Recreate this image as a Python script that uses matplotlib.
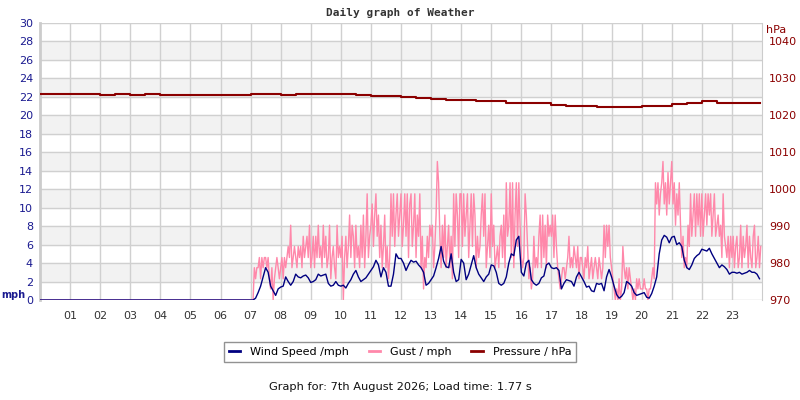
import numpy as np
import matplotlib
matplotlib.use('Agg')
import matplotlib.pyplot as plt
from matplotlib.lines import Line2D

# wind speed (mph), every 5 min from 07:00, zero before that
wind_speed = [
    0, 0, 0.2, 0.8, 1.5, 2.5, 3.5, 3.0, 1.5, 1.0, 0.5, 1.2,
    1.4, 1.5, 2.5, 2.0, 1.6, 2.0, 2.8, 2.5, 2.4, 2.6, 2.7, 2.4,
    1.9, 2.0, 2.2, 2.8, 2.6, 2.7, 2.8, 1.8, 1.5, 1.6, 2.0, 1.6,
    1.5, 1.6, 1.3, 1.8, 2.2, 2.8, 3.2, 2.5, 2.0, 2.2, 2.4, 2.8,
    3.2, 3.6, 4.3, 3.8, 2.5, 3.5, 3.0, 1.5, 1.5, 2.8, 5.0, 4.5,
    4.5, 4.0, 3.2, 3.8, 4.3, 4.1, 4.2, 3.8, 3.5, 3.0, 1.6, 1.8,
    2.2, 2.6, 3.5, 4.5, 5.8, 4.2, 3.6, 3.5, 5.0, 3.0, 2.0, 2.2,
    4.4, 4.0, 2.2, 2.8, 3.8, 4.8, 3.5, 2.8, 2.4, 2.0, 2.5, 2.8,
    3.8, 3.7, 3.0, 1.8, 1.6, 1.8, 2.5, 4.0, 5.0, 4.8, 6.5, 6.9,
    3.0, 2.6, 4.0, 4.3, 2.2, 1.8, 1.6, 1.8, 2.4, 2.6, 3.8, 4.0,
    3.5, 3.4, 3.5, 3.2, 1.2, 1.8, 2.2, 2.1, 2.0, 1.5, 2.5, 3.0,
    2.5, 2.0, 1.4, 1.5, 1.0, 0.9, 1.8, 1.7, 1.8, 1.0, 2.5, 3.3,
    2.5, 1.5, 0.6, 0.2, 0.4, 0.8, 2.0, 1.8, 1.5, 0.8, 0.5, 0.6,
    0.7, 0.8, 0.3, 0.2, 0.7, 1.5, 2.5, 5.0, 6.5, 7.0, 6.8, 6.2,
    6.8, 6.9, 6.0, 6.2, 5.8, 4.3, 3.5, 3.3, 3.8, 4.5, 4.8, 5.0,
    5.5, 5.4, 5.3, 5.6, 5.0, 4.5, 4.0, 3.5, 3.8, 3.6, 3.3, 2.8,
    3.0, 3.0, 2.9, 3.0, 2.8, 2.9, 3.0, 3.2, 3.0, 3.0, 2.8, 2.3,
]

# gust (mph), every 2.5 min from 07:00
gust = [
    0, 0, 0, 3.5, 2.3, 3.5, 3.5, 4.6, 2.3, 4.6, 3.5, 4.6, 4.6, 3.5, 4.6, 2.3, 1.2, 3.5, 0.0, 2.3, 3.5, 4.6, 3.5, 2.3,
    3.5, 4.6, 2.3, 4.6, 3.5, 4.6, 5.8, 4.6, 8.1, 3.5, 4.6, 5.8, 4.6, 3.5, 5.8, 4.6, 5.8, 3.5, 6.9, 4.6, 5.8, 6.9, 4.6, 8.1,
    3.5, 4.6, 6.9, 3.5, 6.9, 4.6, 8.1, 4.6, 5.8, 3.5, 8.1, 4.6, 6.9, 3.5, 4.6, 8.1, 2.3, 4.6, 5.8, 3.5, 2.3, 8.1, 4.6, 5.8,
    4.6, 6.9, 0.0, 4.6, 6.9, 3.5, 5.8, 9.2, 4.6, 8.1, 6.9, 3.5, 8.1, 4.6, 5.8, 3.5, 8.1, 4.6, 9.2, 3.5, 6.9, 11.5, 4.6, 6.9,
    8.1, 10.4, 5.8, 9.2, 11.5, 6.9, 9.2, 4.6, 8.1, 3.5, 5.8, 9.2, 3.5, 5.8, 2.3, 4.6, 11.5, 6.9, 11.5, 5.8, 9.2, 11.5, 6.9, 9.2,
    11.5, 5.8, 8.1, 11.5, 6.9, 11.5, 4.6, 10.4, 11.5, 5.8, 8.1, 11.5, 4.6, 9.2, 6.9, 11.5, 3.5, 6.9, 1.2, 4.6, 3.5, 6.9, 4.6, 8.1,
    6.9, 8.1, 3.5, 5.8, 9.2, 15.0, 12.7, 6.9, 3.5, 8.1, 4.6, 9.2, 3.5, 5.8, 8.1, 3.5, 6.9, 2.3, 11.5, 5.8, 11.5, 9.2, 4.6, 11.5,
    11.5, 5.8, 11.5, 6.9, 9.2, 11.5, 4.6, 8.1, 11.5, 5.8, 11.5, 9.2, 3.5, 6.9, 4.6, 5.8, 9.2, 11.5, 6.9, 11.5, 3.5, 5.8, 8.1, 4.6,
    11.5, 5.8, 8.1, 3.5, 4.6, 5.8, 3.5, 6.9, 8.1, 4.6, 9.2, 3.5, 12.7, 6.9, 8.1, 12.7, 4.6, 12.7, 3.5, 9.2, 12.7, 5.8, 12.7, 8.1,
    4.6, 3.5, 4.6, 11.5, 9.2, 5.8, 2.3, 3.5, 1.2, 2.3, 6.9, 3.5, 4.6, 3.5, 6.9, 9.2, 3.5, 9.2, 4.6, 8.1, 3.5, 9.2, 6.9, 8.1,
    6.9, 9.2, 4.6, 9.2, 5.8, 3.5, 2.3, 1.2, 2.3, 3.5, 3.5, 2.3, 3.5, 4.6, 6.9, 3.5, 4.6, 3.5, 5.8, 4.6, 3.5, 5.8, 2.3, 4.6,
    4.6, 3.5, 2.3, 4.6, 3.5, 5.8, 2.3, 3.5, 4.6, 2.3, 3.5, 4.6, 3.5, 2.3, 4.6, 3.5, 2.3, 3.5, 8.1, 4.6, 8.1, 5.8, 8.1, 4.6,
    3.5, 2.3, 1.2, 0.0, 1.2, 0.0, 2.3, 0.0, 1.2, 5.8, 3.5, 2.3, 3.5, 1.2, 3.5, 2.3, 1.2, 0.0, 1.2, 0.0, 2.3, 1.2, 2.3, 1.2,
    1.2, 1.2, 2.3, 1.2, 1.2, 0.0, 1.2, 1.2, 2.3, 3.5, 2.3, 12.7, 10.4, 12.7, 9.2, 11.5, 12.7, 15.0, 10.4, 12.7, 9.2, 13.8, 10.4, 12.7,
    15.0, 10.4, 12.7, 8.1, 11.5, 9.2, 12.7, 8.1, 4.6, 6.9, 3.5, 4.6, 3.5, 8.1, 5.8, 11.5, 6.9, 9.2, 11.5, 6.9, 11.5, 8.1, 11.5, 6.9,
    11.5, 6.9, 9.2, 11.5, 8.1, 11.5, 9.2, 11.5, 6.9, 9.2, 11.5, 6.9, 8.1, 9.2, 6.9, 8.1, 4.6, 11.5, 6.9, 5.8, 4.6, 6.9, 3.5, 6.9,
    4.6, 6.9, 3.5, 5.8, 6.9, 3.5, 4.6, 8.1, 3.5, 6.9, 4.6, 5.8, 8.1, 3.5, 6.9, 4.6, 3.5, 6.9, 8.1, 3.5, 4.6, 6.9, 3.5, 5.8,
]

# pressure (hPa), every 30 min
pressure = [
    1025.7, 1025.7, 1025.7, 1025.7, 1025.6, 1025.7, 1025.6, 1025.7,
    1025.4, 1025.4, 1025.4, 1025.4, 1025.4, 1025.4, 1025.7, 1025.7,
    1025.6, 1025.7, 1025.7, 1025.7, 1025.7, 1025.6, 1025.1, 1025.1,
    1025.0, 1024.75, 1024.5, 1024.25, 1024.25, 1024.0, 1023.75, 1023.25,
    1023.25, 1023.25, 1022.9, 1022.5, 1022.5, 1022.25, 1022.25, 1022.25,
    1022.4, 1022.4, 1023.0, 1023.25, 1023.75, 1023.4, 1023.4, 1023.4,
]

hour_labels = ['%02d' % h for h in range(1, 24)]

wind_t = np.concatenate([[0.0], 7 + np.arange(len(wind_speed)) / 12])
wind_v = [0] + wind_speed
gust_t = np.concatenate([[0.0], 7 + np.arange(len(gust)) / 24])
gust_v = [0] + gust
pres_t = np.append(np.arange(len(pressure)) / 2, 23.95)
pres_v = pressure + [pressure[-1]]

blue = '#000080'
pink = '#ff88aa'
red = '#8b0000'
tick_blue = '#1a1a90'

fig = plt.figure(figsize=(8, 4), dpi=100)
ax = fig.add_axes([0.05, 0.25, 0.9025, 0.6925])
ax2 = ax.twinx()

for y0 in range(2, 30, 4):
    ax.axhspan(y0, y0 + 2, color='#f2f2f2', zorder=0)
ax.set_axisbelow(True)
ax.grid(True, color='#d0d0d0', lw=1)

ax.plot(gust_t, gust_v, color=pink, lw=1, zorder=3)
ax.plot(wind_t, wind_v, color=blue, lw=1, zorder=4)
ax2.plot(pres_t, pres_v, color=red, lw=1.5, drawstyle='steps-post')

ax.set_xlim(0, 24)
ax.set_ylim(0, 30)
ax2.set_ylim(970, 1045)
ax.set_xticks(range(1, 24))
ax.set_xticklabels(hour_labels)
ax.set_yticks(range(0, 31, 2))
ax2.set_yticks(range(970, 1041, 10))

ax.tick_params(axis='x', length=0, pad=8, labelsize=8, colors='#333333')
ax.tick_params(axis='y', length=0, pad=5, labelsize=8, colors=tick_blue)
ax2.tick_params(axis='y', length=0, pad=5, labelsize=8, colors=red)

for a in (ax, ax2):
    for s in a.spines.values():
        s.set_visible(False)
ax.spines['left'].set_visible(True)
ax.spines['left'].set_color('#cccccc')
ax.spines['left'].set_linewidth(2)
ax.spines['right'].set_visible(True)
ax.spines['right'].set_color('#cccccc')

fig.text(0.5, 0.967, 'Daily graph of Weather', ha='center', va='center',
         family='DejaVu Sans Mono', weight='bold', fontsize=8, color='#333333')
fig.text(0.002, 0.262, 'mph', ha='left', va='center', weight='bold',
         fontsize=7, color=tick_blue)
fig.text(0.957, 0.925, 'hPa', ha='left', va='center', fontsize=8, color=red)

handles = [Line2D([], [], color=blue, lw=2),
           Line2D([], [], color=pink, lw=2),
           Line2D([], [], color=red, lw=2)]
leg = fig.legend(handles, ['Wind Speed /mph', 'Gust / mph', 'Pressure / hPa'],
                 loc='center', bbox_to_anchor=(0.5, 0.12), ncol=3,
                 fontsize=8, handlelength=1.0, handletextpad=0.9,
                 columnspacing=1.8, frameon=True, fancybox=False,
                 borderpad=0.45)
leg.get_frame().set_edgecolor('#777777')
leg.get_frame().set_linewidth(1)

fig.text(0.5, 0.033, 'Graph for: 7th August 2026; Load time: 1.77 s',
         ha='center', va='center', fontsize=8.2, color='#111111')

fig.savefig('out.png', dpi=100)
